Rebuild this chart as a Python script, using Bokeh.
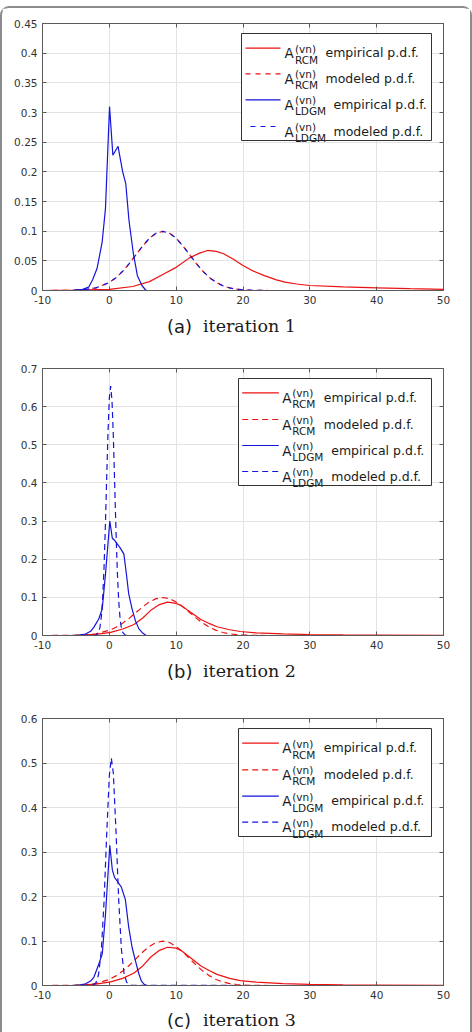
from bokeh.plotting import figure
from bokeh.models import (Range1d, FixedTicker, CustomJSTickFormatter, LinearAxis, Label, Div)
from bokeh.layouts import column
from bokeh.embed import file_html
from bokeh.resources import INLINE

NAN = float("nan")

# ---------------- data ----------------
x_ticks = [-10, 0, 10, 20, 30, 40, 50]
x_tick_labels = ["-10", "0", "10", "20", "30", "40", "50"]
y_ticks_a = [0, 0.05, 0.1, 0.15, 0.2, 0.25, 0.3, 0.35, 0.4, 0.45]
y_tick_labels_a = ["0", "0.05", "0.1", "0.15", "0.2", "0.25", "0.3", "0.35", "0.4", "0.45"]
y_ticks_b = [0, 0.1, 0.2, 0.3, 0.4, 0.5, 0.6, 0.7]
y_tick_labels_b = ["0", "0.1", "0.2", "0.3", "0.4", "0.5", "0.6", "0.7"]
y_ticks_c = [0, 0.1, 0.2, 0.3, 0.4, 0.5, 0.6]
y_tick_labels_c = ["0", "0.1", "0.2", "0.3", "0.4", "0.5", "0.6"]

legend_names = ["RCM", "RCM", "LDGM", "LDGM"]
legend_texts = ["empirical p.d.f.", "modeled p.d.f.", "empirical p.d.f.", "modeled p.d.f."]
captions = ["(a)", "(b)", "(c)"]
caption_texts = ["iteration 1", "iteration 2", "iteration 3"]

# iteration 1
rcm_emp_x_a = [-10, -5, 0, 3.5, 6, 8, 10, 12, 13.5, 14.7, 16, 17.1, 18.5, 20, 21.5, 23.2, 25, 26.3, 28, 30, 35, 40, 45, 50]
rcm_emp_y_a = [0, 0.0005, 0.002, 0.0067, 0.015, 0.027, 0.039, 0.055, 0.063, 0.0675, 0.066, 0.062, 0.053, 0.042, 0.033,
               0.025, 0.018, 0.014, 0.011, 0.0084, 0.006, 0.0045, 0.003, 0.002]
rcm_mod_x_a = [-10, -6, -4, -2, 0, 1, 2, 3, 4, 5, 6, 7, 8, 9, 10, 11, 12, 13, 14, 15, 16, 17, 18, 19, 20, 22, 24, 30, 40, 50]
rcm_mod_y_a = [0, 0.0002, 0.0011, 0.0044, 0.0135, 0.0216, 0.0324, 0.0456, 0.0605, 0.0753, 0.0880, 0.0966, 0.0997, 0.0966,
               0.0880, 0.0753, 0.0605, 0.0456, 0.0324, 0.0216, 0.0135, 0.0079, 0.0044, 0.0023, 0.0011, 0.0002, 0, 0, 0, 0]
ldgm_emp_x_a = [-5.5, -4, -3.1, -2.5, -1.84, -1.08, -0.58, 0.03, 0.53, 1.3, 2.0, 2.46, 2.94, 3.6, 4.2, 4.9, 5.5, 10, 16, 24]
ldgm_emp_y_a = [0, 0.002, 0.0056, 0.018, 0.037, 0.081, 0.138, 0.31, 0.228, 0.243, 0.2, 0.18, 0.118, 0.062, 0.025, 0.008,
                0, 0, 0, 0]
ldgm_mod_x_a = [-6, -4, -2, 0, 1, 2, 3, 4, 5, 6, 7, 8, 9, 10, 11, 12, 13, 14, 15, 16, 17, 18, 19, 20, 22, 24]
ldgm_mod_y_a = [0.0002, 0.0011, 0.0044, 0.0135, 0.0216, 0.0324, 0.0456, 0.0605, 0.0753, 0.0880, 0.0966, 0.0997, 0.0966,
                0.0880, 0.0753, 0.0605, 0.0456, 0.0324, 0.0216, 0.0135, 0.0079, 0.0044, 0.0023, 0.0011, 0.0002, 0]

# iteration 2
rcm_emp_x_b = [-10, -5, -2, 0.2, 2, 3.7, 5, 6.2, 7.5, 8.7, 10, 10.7, 12, 13.7, 15, 16.1, 18, 19.6, 22, 26, 30, 35, 40, 50]
rcm_emp_y_b = [0, 0.0005, 0.003, 0.008, 0.017, 0.029, 0.046, 0.066, 0.081, 0.0874, 0.084, 0.079, 0.063, 0.042, 0.031,
               0.023, 0.015, 0.0105, 0.007, 0.004, 0.0025, 0.0015, 0.001, 0.0003]
rcm_mod_x_b = [-10, -6, -4, -2, 0, 1, 2, 3, 4, 5, 6, 7, 8, 9, 10, 11, 12, 13, 14, 15, 16, 17, 18, 19, 20, 22, 24, 30, 40, 50]
rcm_mod_y_b = [0, 0.0002, 0.0011, 0.0044, 0.0135, 0.0216, 0.0324, 0.0456, 0.0605, 0.0753, 0.0880, 0.0966, 0.0997, 0.0966,
               0.0880, 0.0753, 0.0605, 0.0456, 0.0324, 0.0216, 0.0135, 0.0079, 0.0044, 0.0023, 0.0011, 0.0002, 0, 0, 0, 0]
ldgm_emp_x_b = [-5.5, -4.5, -3.56, -2.8, -2.3, -1.57, -1.06, -0.57, 0.07, 0.45, 0.82, 1.57, 2.17, 2.55, 2.9, 3.4, 3.9,
                4.4, 4.9, 5.5, 10, 16, 24]
ldgm_emp_y_b = [0, 0.001, 0.004, 0.011, 0.022, 0.044, 0.07, 0.162, 0.30, 0.255, 0.249, 0.231, 0.214, 0.162, 0.109, 0.07,
                0.039, 0.018, 0.008, 0, 0, 0, 0]
ldgm_mod_x_b = [-5.5, -2.4, -2.0, -1.6, -1.4, -1.2, -1.0, -0.8, -0.6, -0.4, -0.2, 0.0, 0.2, 0.4, 0.6, 0.8, 1.0, 1.2, 1.4,
                1.6, 1.8, 2.0, 2.4, 2.8, 24]
ldgm_mod_y_b = [0, 0.0001, 0.001, 0.0088, 0.0218, 0.0487, 0.0977, 0.175, 0.283, 0.410, 0.533, 0.623, 0.654, 0.616, 0.522,
                0.397, 0.271, 0.166, 0.0914, 0.0453, 0.0201, 0.008, 0.0009, 0, 0]

# iteration 3
rcm_emp_x_c = [-10, -5, -2, 0.2, 2, 3.7, 5, 6.2, 7.5, 8.7, 10, 10.7, 12, 13.7, 15, 16.1, 18, 19.6, 22, 26, 30, 35, 40, 50]
rcm_emp_y_c = [0, 0.0005, 0.003, 0.008, 0.016, 0.028, 0.044, 0.064, 0.079, 0.086, 0.084, 0.079, 0.064, 0.044, 0.033,
               0.025, 0.016, 0.011, 0.0075, 0.004, 0.0025, 0.0015, 0.001, 0.0003]
rcm_mod_x_c = [-10, -6, -4, -2, 0, 1, 2, 3, 4, 5, 6, 7, 8, 9, 10, 11, 12, 13, 14, 15, 16, 17, 18, 19, 20, 22, 24, 30, 40, 50]
rcm_mod_y_c = [0, 0.0002, 0.0011, 0.0044, 0.0135, 0.0216, 0.0324, 0.0456, 0.0605, 0.0753, 0.0880, 0.0966, 0.0997, 0.0966,
               0.0880, 0.0753, 0.0605, 0.0456, 0.0324, 0.0216, 0.0135, 0.0079, 0.0044, 0.0023, 0.0011, 0.0002, 0, 0, 0, 0]
ldgm_emp_x_c = [-5.5, -4.5, -3.56, -2.8, -2.3, -1.56, -1.06, -0.57, 0.07, 0.45, 0.78, 1.3, 1.8, 2.4, 2.9, 3.4, 3.9, 4.4,
                4.8, 5.2, 5.6, 10, 16, 24]
ldgm_emp_y_c = [0, 0.001, 0.004, 0.01, 0.019, 0.049, 0.071, 0.161, 0.315, 0.26, 0.243, 0.232, 0.221, 0.193, 0.131, 0.086,
                0.056, 0.027, 0.01, 0.003, 0, 0, 0, 0]
ldgm_mod_x_c = [-5.5, -2.8, -2.4, -2.0, -1.6, -1.2, -0.8, -0.4, 0.0, 0.3, 0.6, 1.0, 1.4, 1.8, 2.2, 2.6, 3.0, 3.4, 24]
ldgm_mod_y_c = [0, 0.0002, 0.0012, 0.0063, 0.0254, 0.0784, 0.186, 0.338, 0.472, 0.511, 0.477, 0.346, 0.193, 0.0825,
                0.0271, 0.0069, 0.0013, 0.0002, 0]

# ---------------- styling ----------------
RED = "#ee1111"
BLUE = "#1414dc"
AXC = "#5a5a5a"
DASH = "6 4"
LW = 1.2
TICK_FONT = "DejaVu Sans"
TXT = "#1a1a1a"
FRAME_H = 267
LEFT = 40                 # left border of every plot (frames aligned by the column)
PAGE_X0 = 2               # content starts inside the 2px page border
FL = LEFT + PAGE_X0       # frame left, page px
FRAME_W = 443 - FL        # frame right at page px 443
W = 468
RIGHT = W - LEFT - FRAME_W


def tick_fmt(ticks, labels):
    return CustomJSTickFormatter(args=dict(t=ticks, l=labels),
                                 code="const i = t.findIndex(v => Math.abs(v - tick) < 1e-9); return i >= 0 ? l[i] : '';")


def style_axis(ax, ticks, labels, show):
    ax.ticker = FixedTicker(ticks=ticks)
    ax.axis_line_color = AXC
    ax.major_tick_line_color = AXC
    ax.major_tick_in = 4
    ax.major_tick_out = 0
    ax.minor_tick_line_color = None
    if show:
        ax.formatter = tick_fmt(ticks, labels)
        ax.major_label_text_font = TICK_FONT
        ax.major_label_text_font_size = "10.5px"
        ax.major_label_text_color = "#333333"
        ax.major_label_standoff = 5
    else:
        ax.formatter = CustomJSTickFormatter(code="return '';")
        ax.major_label_text_font_size = "0px"
        ax.major_label_standoff = 0


def make_plot(height, top, ymax, yt, ytl, data, legend, interleave=False):
    bottom = height - top - FRAME_H
    p = figure(width=W, height=height, x_range=Range1d(-10, 50), y_range=Range1d(0, ymax),
               output_backend="svg", toolbar_location=None,
               min_border_left=LEFT, min_border_right=RIGHT,
               min_border_top=top, min_border_bottom=bottom)
    p.outline_line_color = AXC
    p.background_fill_color = "white"
    p.border_fill_color = "white"
    style_axis(p.xaxis[0], x_ticks, x_tick_labels, True)
    style_axis(p.yaxis[0], yt, ytl, True)
    ax_top = LinearAxis()
    style_axis(ax_top, x_ticks, x_tick_labels, False)
    p.add_layout(ax_top, "above")
    ax_r = LinearAxis()
    style_axis(ax_r, yt, ytl, False)
    p.add_layout(ax_r, "right")
    p.xgrid.ticker = FixedTicker(ticks=x_ticks)
    p.ygrid.ticker = FixedTicker(ticks=yt)
    for g in (p.xgrid[0], p.ygrid[0]):
        g.grid_line_color = "#e3e3e3"
        g.grid_line_width = 1

    # legend box (page pixel positions converted to data space)
    FB = legend["fb"]
    upp_x = 60.0 / FRAME_W
    upp_y = ymax / FRAME_H

    def dx(px):
        return -10 + (px - FL) * upp_x

    def dy(py):
        return (FB - py) * upp_y

    bl, br, bt, bb = legend["box"]
    p.quad(left=[dx(bl)], right=[dx(br)], top=[dy(bt)], bottom=[dy(bb)],
           fill_color="white", line_color="#333333", line_width=1)
    lx0, lx1, ax_, sx_, tx_r, tx_l = legend["x"]
    rows = legend["rows"]

    # curves; each one also draws its own legend sample after a gap (NaN break)
    styles = [dict(line_color=RED, line_width=LW),
              dict(line_color=RED, line_width=LW, line_dash=("5 5" if interleave else DASH)),
              dict(line_color=BLUE, line_width=LW),
              (dict(line_color=BLUE, line_width=LW, line_dash="5 5", line_dash_offset=5) if interleave
               else dict(line_color=BLUE, line_width=LW, line_dash=DASH))]
    for i, (sx, sy) in enumerate(data):
        xs = list(sx) + [NAN, dx(lx0), dx(lx1)]
        ys = list(sy) + [NAN, dy(rows[i]), dy(rows[i])]
        p.line(xs, ys, **styles[i])

    # legend texts
    for i, yc in enumerate(rows):
        sy = FB - yc
        p.add_layout(Label(x=ax_ - FL, y=sy - 5, x_units="screen", y_units="screen", text="A",
                           text_font="DejaVu Sans", text_font_size="13.5px", text_color=TXT,
                           text_baseline="alphabetic", text_align="left"))
        p.add_layout(Label(x=sx_ - FL, y=sy - 0.6, x_units="screen", y_units="screen", text="(vn)",
                           text_font="DejaVu Sans", text_font_size="10.5px", text_color=TXT,
                           text_baseline="alphabetic", text_align="left"))
        p.add_layout(Label(x=sx_ - FL, y=sy - 11.6, x_units="screen", y_units="screen", text=legend_names[i],
                           text_font="DejaVu Sans", text_font_size="10.5px", text_color=TXT,
                           text_baseline="alphabetic", text_align="left"))
        tx = tx_r if legend_names[i] == "RCM" else tx_l
        p.add_layout(Label(x=tx - FL, y=sy - 4.7, x_units="screen", y_units="screen", text=legend_texts[i],
                           text_font="DejaVu Sans", text_font_size="12.5px", text_color=TXT,
                           text_baseline="alphabetic", text_align="left"))
    return p


def make_caption(idx, height, baseline_from_top):
    t1 = baseline_from_top - 0.846 * 18
    t2 = baseline_from_top - 0.846 * 17.5
    html = (
        f'<div style="position:relative;width:{W}px;height:{height}px;overflow:visible;">'
        f'<span style="position:absolute;left:{167 - PAGE_X0}px;top:{t1:.1f}px;font-family:\'DejaVu Sans\';'
        f'font-size:18px;line-height:18px;color:{TXT};white-space:nowrap;">{captions[idx]}</span>'
        f'<span style="position:absolute;left:{203 - PAGE_X0}px;top:{t2:.1f}px;font-family:\'DejaVu Serif\';'
        f'font-size:17.5px;line-height:17.5px;color:{TXT};white-space:nowrap;">{caption_texts[idx]}</span>'
        f'</div>'
    )
    return Div(text=html, width=W, height=height, margin=0)


# page layout (content starts at y = 8): plot a 8..308, cap a 308..340, plot b 340..655,
# cap b 655..690, plot c 690..1005, cap c 1005..1040
pa = make_plot(300, 15, 0.45, y_ticks_a, y_tick_labels_a,
               [(rcm_emp_x_a, rcm_emp_y_a), (rcm_mod_x_a, rcm_mod_y_a), (ldgm_emp_x_a, ldgm_emp_y_a),
                (ldgm_mod_x_a, ldgm_mod_y_a)],
               dict(fb=290, box=(241, 431, 33, 140), rows=[47.7, 73.3, 99.3, 126],
                    x=(245, 280, 284, 294.5, 325, 333)),
               interleave=True)
ca = make_caption(0, 32, 25)
pb = make_plot(315, 28, 0.7, y_ticks_b, y_tick_labels_b,
               [(rcm_emp_x_b, rcm_emp_y_b), (rcm_mod_x_b, rcm_mod_y_b), (ldgm_emp_x_b, ldgm_emp_y_b),
                (ldgm_mod_x_b, ldgm_mod_y_b)],
               dict(fb=635, box=(238, 431, 378, 485), rows=[392.3, 419, 445, 471],
                    x=(241.7, 278.3, 281.7, 291.7, 323.3, 330.7)))
cb = make_caption(1, 35, 23)
pc = make_plot(315, 28, 0.6, y_ticks_c, y_tick_labels_c,
               [(rcm_emp_x_c, rcm_emp_y_c), (rcm_mod_x_c, rcm_mod_y_c), (ldgm_emp_x_c, ldgm_emp_y_c),
                (ldgm_mod_x_c, ldgm_mod_y_c)],
               dict(fb=985, box=(238, 431, 728, 836), rows=[742.7, 769.3, 795.7, 821.7],
                    x=(241.7, 278.3, 281.7, 291.7, 323.3, 330.7)))
cc = make_caption(2, 35, 22)

layout = column(pa, ca, pb, cb, pc, cc, spacing=0,
                styles={"border": "2px solid #8c8c8c", "border-radius": "9px", "margin-top": "6px",
                        "box-sizing": "content-box", "background": "white"})

open("out.html", "w").write(file_html(layout, INLINE))
